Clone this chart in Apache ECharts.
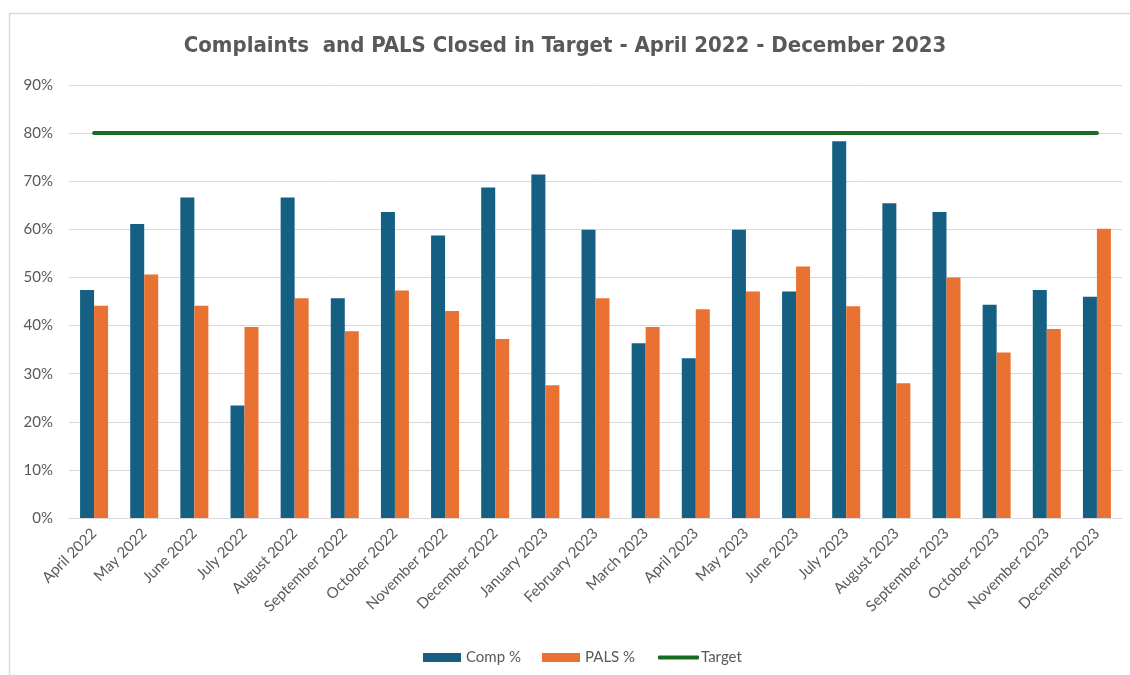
<!DOCTYPE html>
<html>
<head>
<meta charset="utf-8">
<script src="https://cdn.jsdelivr.net/npm/echarts@6/dist/echarts.min.js"></script>
<style>
html,body{margin:0;padding:0;background:#fff;}
#c{width:1130px;height:675px;}
</style>
</head>
<body>
<div id="c"></div>
<script>
const categories = ["April 2022","May 2022","June 2022","July 2022","August 2022","September 2022","October 2022","November 2022","December 2022","January 2023","February 2023","March 2023","April 2023","May 2023","June 2023","July 2023","August 2023","September 2023","October 2023","November 2023","December 2023"];
const compPct = [47.4,61.1,66.6,23.4,66.6,45.7,63.6,58.7,68.7,71.4,59.9,36.3,33.2,59.9,47.1,78.3,65.4,63.6,44.3,47.4,46.0];
const palsPct = [44.1,50.6,44.1,39.7,45.7,38.8,47.3,43.0,37.2,27.6,45.7,39.7,43.4,47.1,52.3,44.0,28.0,50.0,34.4,39.3,60.1];
const targetPct = [80,80,80,80,80,80,80,80,80,80,80,80,80,80,80,80,80,80,80,80,80];
const yTicks = [0,10,20,30,40,50,60,70,80,90];

const chart = echarts.init(document.getElementById('c'), null, {renderer:'canvas'});
const txt = '#595959';
const font = 'Lato, "Open Sans", sans-serif';
chart.setOption({
  animation:false,
  backgroundColor:'#fff',
  graphic:[{type:'rect',shape:{x:9.5,y:13.5,width:1200,height:700},style:{fill:'none',stroke:'#d9d9d9',lineWidth:1.5},silent:true}],
  title:{text:'Complaints  and PALS Closed in Target - April 2022 - December 2023',left:'center',top:30,
    textStyle:{fontFamily:'"Liberation Sans Narrow","DejaVu Sans Condensed",sans-serif',fontSize:22,fontWeight:'bold',color:txt}},
  legend:[
    {left:418,top:645,itemGap:21,itemWidth:38,itemHeight:9,
     textStyle:{fontFamily:font,fontSize:15,color:txt},
     data:[{name:'Comp %',icon:'rect'},{name:'PALS %',icon:'rect'}]},
    {left:653,top:645,itemWidth:41,itemHeight:4,
     textStyle:{fontFamily:font,fontSize:15,color:txt,padding:[0,0,0,-3]},
     data:[{name:'Target',icon:'roundRect'}]}
  ],
  grid:{left:69,right:8,top:85,bottom:157,containLabel:false},
  xAxis:{type:'category',data:categories,
    axisLine:{lineStyle:{color:'#d9d9d9',width:1}},axisTick:{show:false},
    axisLabel:{interval:0,rotate:45,margin:13,fontFamily:font,fontSize:15,color:txt}},
  yAxis:{type:'value',min:0,max:90,interval:10,
    axisLine:{show:false},axisTick:{show:false},
    splitLine:{lineStyle:{color:'#d9d9d9',width:1}},
    axisLabel:{formatter:v=>yTicks.includes(v)?v+'%':'',margin:16,fontFamily:font,fontSize:15,color:txt}},
  series:[
    {name:'Comp %',type:'bar',data:compPct,barWidth:14,barGap:'0%',itemStyle:{color:'#156082'}},
    {name:'PALS %',type:'bar',data:palsPct,barWidth:14,barGap:'0%',itemStyle:{color:'#E97132'}},
    {name:'Target',type:'line',data:targetPct,showSymbol:false,symbol:'none',
      lineStyle:{color:'#196B24',width:4,cap:'round'},itemStyle:{color:'#196B24'}}
  ]
});
</script>
</body>
</html>
